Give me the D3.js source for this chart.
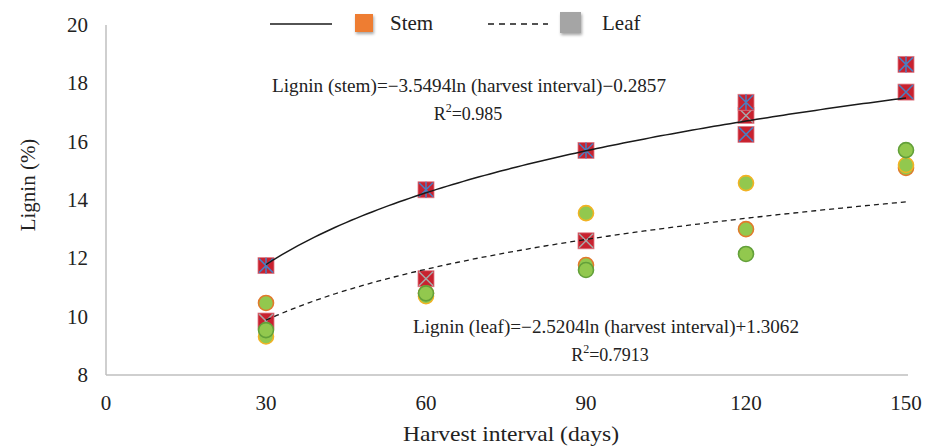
<!DOCTYPE html>
<html lang="en">
<head>
    <meta charset="UTF-8">
    <title>Lignin vs harvest interval</title>
    <script src="https://d3js.org/d3.v7.min.js"></script>
    <style>
        body { margin: 0; background: #fff; }
    </style>
</head>
<body>
<div id="chart"></div>
<script>
    // harvest intervals (days)
    const intervals = [30, 60, 90, 120, 150];

    // stem replicates (red squares with cross markers)
    const stemStar = [11.75, 14.35, 15.7, 17.35, 18.65];
    const stemCross = [null, null, null, 16.25, 17.7];
    const squareGreyX = [9.85, 11.3, 12.6, 16.9, null];

    // leaf replicates (green circles, different outlines)
    const leafOrange = [10.47, 10.8, 11.77, 13.0, 15.1];
    const leafYellow = [9.32, 10.7, 13.55, 14.58, 15.2];
    const leafGreen = [9.54, 10.8, 11.6, 12.15, 15.71];

    // logarithmic trend lines: y = a*ln(x) + b
    const stemFit = { a: 3.5494, b: -0.2857 };
    const leafFit = { a: 2.5204, b: 1.3062 };

    const xTicks = [0, 30, 60, 90, 120, 150];
    const yTicks = [8, 10, 12, 14, 16, 18, 20];

    const width = 931, height = 447;
    const serif = "'Liberation Serif', 'Times New Roman', 'DejaVu Serif', serif";
    const svg = d3.select("#chart").append("svg")
        .attr("width", width)
        .attr("height", height)
        .attr("font-family", serif)
        .style("font-family", serif);

    const x = d3.scaleLinear().domain([0, 150]).range([106, 906]);
    const y = d3.scaleLinear().domain([8, 20]).range([375, 25]);

    // shadow for legend squares
    const defs = svg.append("defs");
    const shadow = defs.append("filter").attr("id", "shadow")
        .attr("x", "-50%").attr("y", "-50%").attr("width", "200%").attr("height", "200%");
    shadow.append("feDropShadow").attr("dx", 1).attr("dy", 2)
        .attr("stdDeviation", 1.5).attr("flood-color", "#000").attr("flood-opacity", 0.35);

    // axes lines
    svg.append("line")
        .attr("x1", x(0)).attr("x2", x(0))
        .attr("y1", y(20)).attr("y2", y(8))
        .attr("stroke", "#bfbfbf").attr("stroke-width", 1.5);
    svg.append("line")
        .attr("x1", x(0)).attr("x2", x(150) + 2)
        .attr("y1", y(8)).attr("y2", y(8))
        .attr("stroke", "#bfbfbf").attr("stroke-width", 1.5);

    svg.append("g").selectAll("text")
        .data(yTicks).join("text")
        .attr("x", 88).attr("y", d => y(d) + 7)
        .attr("text-anchor", "end")
        .attr("font-size", 21).attr("fill", "#222")
        .text(d => d);

    svg.append("g").selectAll("text")
        .data(xTicks).join("text")
        .attr("x", d => x(d)).attr("y", 410)
        .attr("text-anchor", "middle")
        .attr("font-size", 21).attr("fill", "#222")
        .text(d => d);

    svg.append("text")
        .attr("x", 511).attr("y", 441)
        .attr("text-anchor", "middle")
        .attr("font-size", 21).attr("fill", "#222")
        .attr("textLength", 216).attr("lengthAdjust", "spacingAndGlyphs")
        .text("Harvest interval (days)");

    svg.append("text")
        .attr("transform", "translate(35,185) rotate(-90)")
        .attr("text-anchor", "middle")
        .attr("font-size", 21).attr("fill", "#222")
        .text("Lignin (%)");

    // markers
    const pts = arr => intervals.map((d, i) => ({ x: d, v: arr[i] })).filter(p => p.v != null);

    function squares(arr, crossColor, star) {
        const g = svg.append("g").selectAll("g")
            .data(pts(arr)).join("g")
            .attr("transform", p => `translate(${x(p.x)},${y(p.v)})`);
        g.append("rect")
            .attr("x", -8).attr("y", -8).attr("width", 16).attr("height", 16)
            .attr("fill", "#c8222f").attr("stroke", "#e07a85").attr("stroke-width", 0.8);
        g.append("path")
            .attr("d", "M-7,-7L7,7M-7,7L7,-7" + (star ? "M0,-8L0,8" : ""))
            .attr("stroke", crossColor).attr("stroke-width", 1.5).attr("fill", "none");
    }

    squares(squareGreyX, "#a8a8a8", false);
    squares(stemCross, "#4a7fc1", false);
    squares(stemStar, "#4a7fc1", true);

    function circles(arr, outline) {
        svg.append("g").selectAll("circle")
            .data(pts(arr)).join("circle")
            .attr("cx", p => x(p.x)).attr("cy", p => y(p.v))
            .attr("r", 7.5)
            .attr("fill", "#92c84e")
            .attr("stroke", outline).attr("stroke-width", 1.6);
    }

    circles(leafOrange, "#e17a2c");
    circles(leafYellow, "#f1b324");
    circles(leafGreen, "#63a03a");

    // trend lines
    const fitLine = d3.line().x(d => x(d.x)).y(d => y(d.v));
    function trend(fit) {
        return d3.range(30, 150.5, 1).map(t => ({ x: t, v: fit.a * Math.log(t) + fit.b }));
    }
    svg.append("path")
        .attr("d", fitLine(trend(stemFit)))
        .attr("fill", "none").attr("stroke", "#1a1a1a").attr("stroke-width", 1.5);
    svg.append("path")
        .attr("d", fitLine(trend(leafFit)))
        .attr("fill", "none").attr("stroke", "#1a1a1a").attr("stroke-width", 1.3)
        .attr("stroke-dasharray", "5,4");

    // equations
    const eqs = [
        { text: "Lignin (stem)=\u22123.5494ln (harvest interval)\u22120.2857", cx: 469, y: 92, len: 394 },
        { r2: "0.985", cx: 468, y: 120 },
        { text: "Lignin (leaf)=\u22122.5204ln (harvest interval)+1.3062", cx: 606, y: 333, len: 386 },
        { r2: "0.7913", cx: 610, y: 361 }
    ];
    eqs.forEach(e => {
        const t = svg.append("text")
            .attr("x", e.cx).attr("y", e.y)
            .attr("text-anchor", "middle")
            .attr("font-size", 18).attr("fill", "#222");
        if (e.text) {
            t.attr("textLength", e.len).attr("lengthAdjust", "spacingAndGlyphs").text(e.text);
        } else {
            t.append("tspan").text("R");
            t.append("tspan").attr("dy", -8).attr("font-size", 12).text("2");
            t.append("tspan").attr("dy", 8).text("=" + e.r2);
        }
    });

    // legend
    const legend = svg.append("g");
    legend.append("line")
        .attr("x1", 270).attr("x2", 332).attr("y1", 24).attr("y2", 24)
        .attr("stroke", "#1a1a1a").attr("stroke-width", 1.5);
    legend.append("rect")
        .attr("x", 355).attr("y", 14).attr("width", 18).attr("height", 18)
        .attr("fill", "#ee7d31").attr("filter", "url(#shadow)");
    legend.append("text")
        .attr("x", 390).attr("y", 30).attr("font-size", 21).attr("fill", "#222").text("Stem");
    legend.append("line")
        .attr("x1", 488).attr("x2", 548).attr("y1", 24).attr("y2", 24)
        .attr("stroke", "#1a1a1a").attr("stroke-width", 1.5)
        .attr("stroke-dasharray", "6,5");
    legend.append("rect")
        .attr("x", 560).attr("y", 12).attr("width", 21).attr("height", 21)
        .attr("fill", "#a5a5a5").attr("filter", "url(#shadow)");
    legend.append("text")
        .attr("x", 602).attr("y", 30).attr("font-size", 21).attr("fill", "#222").text("Leaf");
</script>
</body>
</html>
